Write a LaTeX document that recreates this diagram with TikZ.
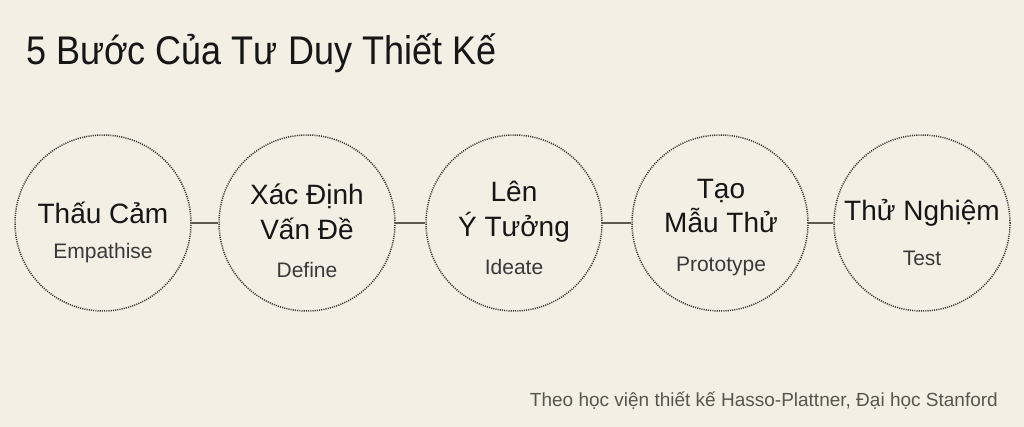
\documentclass[tikz,border=0pt]{standalone}
\usepackage{fontspec}
\setmainfont{Liberation Sans}
\newfontfamily\headfont[FakeStretch=0.9]{Liberation Sans}
\usepackage{tikz}

\definecolor{paper}{HTML}{F3EFE4}
\definecolor{ink}{HTML}{161616}
\definecolor{rope}{HTML}{5F584C}
\definecolor{note}{HTML}{56564F}

\begin{document}
\begin{tikzpicture}[x=1pt,y=-1pt]
\tikzstyle{every node}=[inner sep=0pt,text=ink]
\tikzstyle{stage}=[circle,draw=ink!85,line width=1.5pt,dash pattern=on 1.1pt off 1.1pt,minimum size=176pt]
\tikzstyle{big}=[anchor=base,font=\fontsize{28}{28}\selectfont]
\tikzstyle{small}=[anchor=base,text=ink!85,font=\fontsize{21}{21}\selectfont]
%\draw [red!40](0,0) grid[step=50] (1024,427);

\fill[paper] (0,0) rectangle (1024,427);
\node[anchor=base west,font=\headfont\fontsize{40}{40}\selectfont] (title) at (26,65) {5 Bước Của Tư Duy Thiết Kế};

\node[stage] (S1) at (103,223) {};
\node[stage] (S2) at (307,223) {};
\node[stage] (S3) at (514,223) {};
\node[stage] (S4) at (720,223) {};
\node[stage] (S5) at (922,223) {};
\draw [rope,line width=2.2pt] (S1) -- (S2) -- (S3) -- (S4) -- (S5);

\node[big] (empa) at (103,224) {Thấu Cảm};
\node[small] (empb) at (103,259) {Empathise};
\node[big] (defa) at (307,205) {Xác Định};
\node[big] (defb) at (307,240) {Vấn Đề};
\node[small] (defc) at (307,277) {Define};
\node[big] (idea) at (514,202) {Lên};
\node[big] (ideb) at (514,237) {Ý Tưởng};
\node[small] (idec) at (514,275) {Ideate};
\node[big] (prota) at (721,199) {Tạo};
\node[big] (protb) at (721,233) {Mẫu Thử};
\node[small] (protc) at (721,272) {Prototype};
\node[big] (testa) at (922,221) {Thử Nghiệm};
\node[small] (testb) at (922,266) {Test};

\node[anchor=base east,text=note,font=\fontsize{19}{19}\selectfont] (source) at (998,406) {Theo học viện thiết kế Hasso-Plattner, Đại học Stanford};
\useasboundingbox (0,0) rectangle (1024,427);
\end{tikzpicture}
\end{document}
